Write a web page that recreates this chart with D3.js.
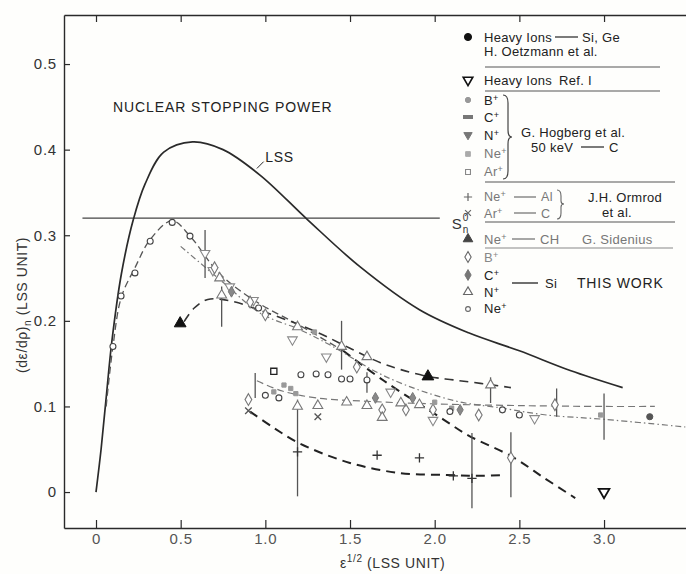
<!DOCTYPE html>
<html><head><meta charset="utf-8">
<script src="https://cdn.jsdelivr.net/npm/d3@7"></script>
<style>
body{margin:0;background:#fff}
svg{display:block;font-family:"Liberation Sans",Arial,sans-serif}
</style>
</head><body>
<svg id="c" width="686" height="574"></svg>
<script>
// ---------- data ----------
const xTicks=[0,0.5,1,1.5,2,2.5,3];
const xTickLabels=["0","0.5","1.0","1.5","2.0","2.5","3.0"];
const yTicks=[0,0.1,0.2,0.3,0.4,0.5];
const yTickLabels=["0","0.1","0.2","0.3","0.4","0.5"];

// LSS theory curve
const lssX=[0,0.03,0.06,0.093,0.15,0.22,0.29,0.4,0.57,0.75,0.97,1.25,1.56,1.91,2.2,2.5,2.8,3.11];
const lssY=[0,0.05,0.11,0.175,0.255,0.318,0.36,0.397,0.409,0.4,0.37,0.318,0.263,0.213,0.186,0.165,0.142,0.122];
// Sn0 level
const snLevel=0.32;
const snSpan=[-0.08,2.03];

// THIS WORK Ne+ in Si: dashed curve (rising/upper part, falling heavy part)
const neRiseX=[0.06,0.10,0.15,0.23,0.32,0.45,0.555,0.73,0.95,1.2,1.46];
const neRiseY=[0.10,0.17,0.228,0.262,0.295,0.317,0.299,0.255,0.222,0.195,0.165];
const neFallX=[1.46,1.7,2.05,2.2,2.46,2.65,2.83];
const neFallY=[0.165,0.13,0.085,0.066,0.041,0.016,-0.007];
// G. Sidenius Ne+ in CH: heavy dashed line
const sidLineX=[0.52,0.58,0.66,0.8,1.0,1.28,1.5,1.68,1.8,1.96,2.11,2.27,2.45];
const sidLineY=[0.199,0.215,0.225,0.223,0.21,0.189,0.168,0.151,0.143,0.135,0.131,0.127,0.122];
// Hogberg dash-dot line
const hogLineX=[0.5,0.75,0.97,1.2,1.38,1.72,2.11,2.4,2.66,3.0,3.48];
const hogLineY=[0.287,0.245,0.209,0.19,0.172,0.134,0.107,0.098,0.09,0.085,0.076];
// lower band dashed line
const bandLineX=[0.95,1.1,1.3,1.6,2.0,2.5,3.0,3.3];
const bandLineY=[0.13,0.118,0.11,0.106,0.103,0.101,0.1,0.1];
// Ormrod heavy dashed line
const ormLineX=[0.91,1.05,1.2,1.5,1.8,2.07,2.25,2.42];
const ormLineY=[0.094,0.075,0.057,0.034,0.022,0.02,0.019,0.02];

// marker series
const neCircX=[0.10,0.148,0.23,0.32,0.45,0.555,0.96,1.0,1.08,1.21,1.30,1.37,1.45,1.50,1.6,2.09,2.4,2.5];
const neCircY=[0.17,0.229,0.256,0.293,0.315,0.299,0.215,0.113,0.11,0.137,0.138,0.137,0.132,0.132,0.131,0.094,0.096,0.09];
const nTriX=[0.73,0.742,1.19,1.45,1.6,1.19,1.31,1.48,1.6,1.69,1.8,1.91,2.33];
const nTriY=[0.25,0.23,0.193,0.17,0.158,0.10,0.101,0.105,0.101,0.087,0.104,0.102,0.125];
const bDiaX=[0.70,0.91,1.0,1.54,0.9,1.69,1.99,2.26,2.71,2.45,1.83];
const bDiaY=[0.262,0.222,0.207,0.146,0.108,0.096,0.096,0.09,0.102,0.04,0.096];
const cDiaX=[0.8,1.65,1.87,2.15];
const cDiaY=[0.234,0.11,0.11,0.096];
const hogNX=[0.644,0.69,0.79,0.93,1.16,1.36,1.74,1.99,2.59];
const hogNY=[0.279,0.259,0.24,0.224,0.178,0.158,0.117,0.084,0.086];
const hogGrayX=[1.05,1.11,1.15,1.18,1.29,2.0,2.1,2.98];
const hogGrayY=[0.117,0.125,0.121,0.115,0.187,0.105,0.098,0.09];
const arSqX=[1.05];
const arSqY=[0.141];
const ormPlusX=[1.19,1.66,1.91,2.11,2.22];
const ormPlusY=[0.047,0.043,0.04,0.019,0.016];
const ormTimesX=[0.9,1.31];
const ormTimesY=[0.095,0.088];
const sidTriX=[0.497,1.96];
const sidTriY=[0.197,0.135];
const oetzX=[3.27];
const oetzY=[0.088];
const refX=[3.0];
const refY=[0.0];
// error bars
const errX=[0.644,0.742,0.94,1.19,1.45,1.6,2.22,2.33,2.45,2.72,3.0];
const errLo=[0.25,0.193,0.11,-0.005,0.143,0.116,-0.019,0.104,-0.006,0.088,0.061];
const errHi=[0.306,0.24,0.139,0.108,0.2,0.14,0.069,0.134,0.07,0.121,0.115];

// ---------- drawing ----------
const svg=d3.select("#c");
svg.append("rect").attr("width",686).attr("height",574).attr("fill","#fefefc");
const x=d3.scaleLinear().domain([-0.189,3.484]).range([64,686]);
const y=d3.scaleLinear().domain([-0.042,0.5573]).range([528,15]);
const ink="#2a2a2a";

// axes
const gx=svg.append("g").attr("transform","translate(0,528)")
  .call(d3.axisBottom(x).tickValues(xTicks).tickFormat((d,i)=>xTickLabels[i]).tickSizeInner(-8).tickSizeOuter(0).tickPadding(5));
const gt=svg.append("g").attr("transform","translate(0,15)")
  .call(d3.axisTop(x).tickValues(xTicks).tickFormat("").tickSizeInner(-7).tickSizeOuter(0));
const gy=svg.append("g").attr("transform","translate(64,0)")
  .call(d3.axisLeft(y).tickValues(yTicks).tickFormat((d,i)=>yTickLabels[i]).tickSizeInner(-6).tickSizeOuter(0).tickPadding(7));
[gx,gt,gy].forEach(g=>{
  g.select(".domain").attr("stroke",ink).attr("stroke-width",1.4);
  g.selectAll(".tick line").attr("stroke",ink).attr("stroke-width",1.2);
  g.selectAll(".tick text").attr("fill","#333").attr("font-size",15).attr("letter-spacing",0.8)
    .attr("font-family","Liberation Sans, Arial, sans-serif");
});
gx.selectAll(".tick text").attr("fill","#555");

// axis titles
svg.append("text").attr("x",340).attr("y",568).attr("font-size",14).attr("fill","#333").attr("letter-spacing",0.6)
  .html('ε<tspan dy="-6" font-size="10">1/2</tspan><tspan dy="6"> (LSS UNIT)</tspan>');
svg.append("text").attr("transform","translate(27,305) rotate(-90)").attr("text-anchor","middle")
  .attr("font-size",14).attr("fill","#333").attr("letter-spacing",0.6)
  .html('(dε/dρ)<tspan dy="4" font-size="10">n</tspan><tspan dy="-4"> (LSS UNIT)</tspan>');

// title
svg.append("text").attr("x",113).attr("y",112).attr("font-size",14).attr("letter-spacing",0.9)
  .attr("fill","#222").text("NUCLEAR STOPPING POWER");

const line=d3.line().x(d=>x(d[0])).y(d=>y(d[1])).curve(d3.curveCatmullRom.alpha(0.5));
const zip=(a,b)=>a.map((v,i)=>[v,b[i]]);

// Sn0 line
svg.append("line").attr("x1",x(snSpan[0])).attr("x2",x(snSpan[1])).attr("y1",y(snLevel)).attr("y2",y(snLevel))
  .attr("stroke","#444").attr("stroke-width",1.1);
const snx=x(snSpan[1])+12, sny=y(snLevel)+11;
svg.append("text").attr("x",snx).attr("y",sny).attr("font-size",15).attr("fill","#333").text("S");
svg.append("text").attr("x",snx+11).attr("y",sny-8).attr("font-size",10).attr("fill","#333").text("0");
svg.append("text").attr("x",snx+11).attr("y",sny+4).attr("font-size",10).attr("fill","#333").text("n");

// LSS curve
svg.append("path").attr("d",line(zip(lssX,lssY))).attr("fill","none").attr("stroke",ink).attr("stroke-width",1.7);
svg.append("line").attr("x1",x(0.95)).attr("y1",y(0.378)).attr("x2",x(0.99)).attr("y2",y(0.386)).attr("stroke",ink).attr("stroke-width",1);
svg.append("text").attr("x",x(1.0)).attr("y",y(0.385)).attr("font-size",14).attr("fill","#222").attr("letter-spacing",0.6).text("LSS");

// dashed lines
svg.append("path").attr("d",line(zip(neRiseX,neRiseY))).attr("fill","none").attr("stroke","#555").attr("stroke-width",1.3).attr("stroke-dasharray","7,4");
svg.append("path").attr("d",line(zip(neFallX,neFallY))).attr("fill","none").attr("stroke","#222").attr("stroke-width",2).attr("stroke-dasharray","9,6");
svg.append("path").attr("d",line(zip(sidLineX,sidLineY))).attr("fill","none").attr("stroke","#333").attr("stroke-width",1.6).attr("stroke-dasharray","9,6");
svg.append("path").attr("d",line(zip(hogLineX,hogLineY))).attr("fill","none").attr("stroke","#777").attr("stroke-width",1.2).attr("stroke-dasharray","6,3,1.5,3");
svg.append("path").attr("d",line(zip(bandLineX,bandLineY))).attr("fill","none").attr("stroke","#777").attr("stroke-width",1.2).attr("stroke-dasharray","7,4");
svg.append("path").attr("d",line(zip(ormLineX,ormLineY))).attr("fill","none").attr("stroke","#222").attr("stroke-width",2).attr("stroke-dasharray","9,6");

// error bars
svg.append("g").selectAll("line").data(errX).join("line")
  .attr("x1",d=>x(d)).attr("x2",d=>x(d)).attr("y1",(d,i)=>y(errLo[i])).attr("y2",(d,i)=>y(errHi[i]))
  .attr("stroke","#555").attr("stroke-width",1.3);

// markers
function markers(xs,ys,type,size,fill,stroke,sw,rot){
  svg.append("g").selectAll("path").data(xs).join("path")
    .attr("transform",(d,i)=>`translate(${x(d)},${y(ys[i])})${rot?" rotate("+rot+")":""}`)
    .attr("d",d3.symbol().type(type).size(size)())
    .attr("fill",fill).attr("stroke",stroke).attr("stroke-width",sw);
}
markers(hogNX,hogNY,d3.symbolTriangle,40,"#fff","#888",1.1,180);
markers(bDiaX,bDiaY,d3.symbolDiamond,40,"#fff","#777",1.1);
markers(nTriX,nTriY,d3.symbolTriangle,42,"#fff","#777",1.1);
markers(cDiaX,cDiaY,d3.symbolDiamond,34,"#888","#777",1);
markers(hogGrayX,hogGrayY,d3.symbolSquare,18,"#999","#999",1);
markers(neCircX,neCircY,d3.symbolCircle,28,"#fff","#444",1.1);
markers(arSqX,arSqY,d3.symbolSquare,38,"#fff","#222",1.3);
markers(ormPlusX,ormPlusY,d3.symbolPlus,30,"none","#333",1.3);
markers(ormTimesX,ormTimesY,d3.symbolTimes,30,"none","#555",1.3);
markers(sidTriX,sidTriY,d3.symbolTriangle,60,"#111","#111",1);
markers(oetzX,oetzY,d3.symbolCircle,30,"#555","#555",1);
markers(refX,refY,d3.symbolTriangle,50,"#fff","#111",1.8,180);

// ---------- legend ----------
const L=svg.append("g").attr("font-size",13).attr("fill","#222").attr("letter-spacing",0.3);
const sx=468, tx=484;
function lsym(type,size,cy,fill,stroke,sw,rot){
  L.append("path").attr("transform",`translate(${sx},${cy})${rot?" rotate("+rot+")":""}`)
    .attr("d",d3.symbol().type(type).size(size)()).attr("fill",fill).attr("stroke",stroke).attr("stroke-width",sw);
}
function ltext(px,by,base,col,supStr,fs){
  const t=L.append("text").attr("x",px).attr("y",by).attr("fill",col||"#222");
  if(fs) t.attr("font-size",fs);
  t.append("tspan").text(base);
  if(supStr) t.append("tspan").attr("dy",-4).attr("font-size",9).text(supStr);
  return t;
}
function hline(x1,x2,yy,col){ L.append("line").attr("x1",x1).attr("x2",x2).attr("y1",yy).attr("y2",yy).attr("stroke",col||"#555").attr("stroke-width",1.1); }
function dash(x1,x2,yy,col){ L.append("line").attr("x1",x1).attr("x2",x2).attr("y1",yy).attr("y2",yy).attr("stroke",col||"#333").attr("stroke-width",1.3); }

lsym(d3.symbolCircle,40,37,"#111","#111",1);
ltext(tx,42,"Heavy Ions");
dash(555,578,37);
ltext(582,42,"Si, Ge");
ltext(tx,56,"H. Oetzmann et al.");
hline(485,660,67);
lsym(d3.symbolTriangle,40,80,"#fff","#111",1.6,180);
ltext(tx,85,"Heavy Ions");
ltext(559,85,"Ref. I");
hline(485,660,91);

lsym(d3.symbolCircle,22,100,"#999","#999",1);
ltext(tx,105,"B","#222","+");
L.append("rect").attr("x",sx-5).attr("y",115).attr("width",10).attr("height",4).attr("fill","#777");
ltext(tx,122,"C","#222","+");
lsym(d3.symbolTriangle,30,135,"#777","#777",1,180);
ltext(tx,140,"N","#222","+");
lsym(d3.symbolSquare,22,154,"#aaa","#aaa",1);
ltext(tx,158,"Ne","#777","+");
lsym(d3.symbolSquare,24,172,"#fff","#888",1.1);
ltext(tx,176,"Ar","#777","+");
L.append("path").attr("d","M503,95 Q508,95 508,103 L508,130 Q508,137 512,137 Q508,137 508,144 L508,171 Q508,179 503,179")
  .attr("fill","none").attr("stroke","#444").attr("stroke-width",1.2);
ltext(521,137,"G. Hogberg et al.");
ltext(531,152,"50 keV");
dash(581,604,147);
ltext(609,152,"C");
hline(485,675,182);

lsym(d3.symbolPlus,24,197,"none","#666",1.2);
ltext(tx,201,"Ne","#777","+",12.5);
dash(514,536,197,"#777");
ltext(541,201,"Al","#777",null,12.5);
lsym(d3.symbolTimes,24,213,"none","#666",1.2);
ltext(tx,218,"Ar","#777","+",12.5);
dash(514,536,213,"#777");
ltext(541,218,"C","#777",null,12.5);
L.append("path").attr("d","M557,190 Q561,190 561,196 L561,201 Q561,204 564,204 Q561,204 561,207 L561,213 Q561,219 557,219")
  .attr("fill","none").attr("stroke","#666").attr("stroke-width",1.1);
ltext(588,202,"J.H. Ormrod");
ltext(602,217,"et al.");
hline(485,675,222);

lsym(d3.symbolTriangle,40,239,"#444","#444",1);
ltext(tx,244,"Ne","#777","+");
dash(512,535,239,"#777");
ltext(540,244,"CH","#777");
ltext(582,244,"G. Sidenius","#777");
hline(485,673,248,"#888");

lsym(d3.symbolDiamond,34,257,"#fff","#666",1.1);
ltext(tx,262,"B","#888","+");
lsym(d3.symbolDiamond,34,275,"#777","#777",1);
ltext(tx,280,"C","#222","+");
lsym(d3.symbolTriangle,34,292,"#fff","#666",1.1);
ltext(tx,297,"N","#222","+");
lsym(d3.symbolCircle,18,309,"#fff","#666",1.1);
ltext(tx,313,"Ne","#222","+");
dash(512,538,283,"#222");
ltext(545,288,"Si");
L.append("text").attr("x",577).attr("y",288).attr("font-size",14).attr("letter-spacing",0.8).attr("fill","#222").text("THIS WORK");
</script>
</body></html>
